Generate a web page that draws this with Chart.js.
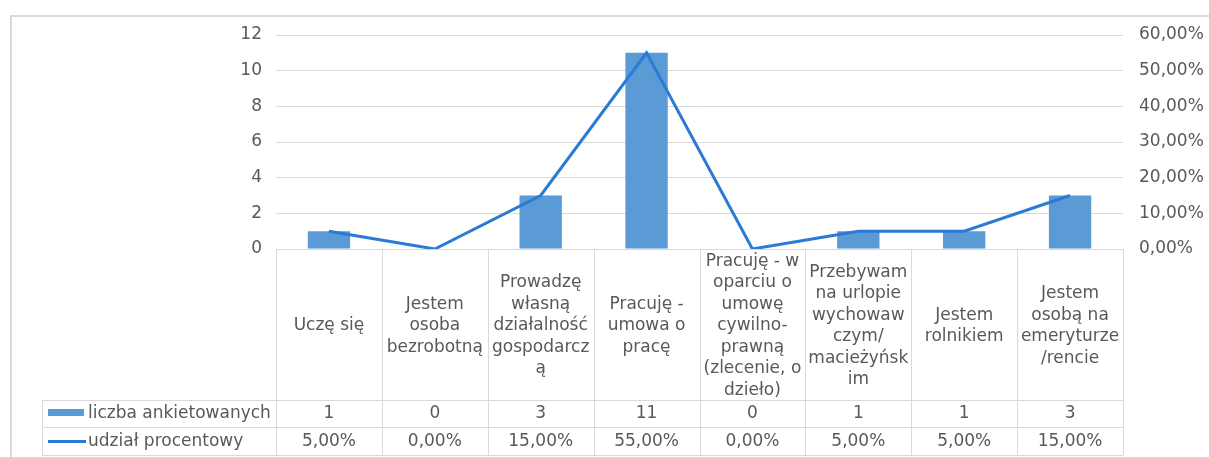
<!DOCTYPE html>
<html>
<head>
<meta charset="utf-8">
<script src="https://cdn.jsdelivr.net/npm/chart.js@4"></script>
<style>
  html, body { margin: 0; padding: 0; background: #fff; }
  #wrap { width: 1209px; height: 457px; position: relative; }
</style>
</head>
<body>
<div id="wrap"><canvas id="chart"></canvas></div>
<script>
// --- DATA ---
const categories = [
    ['Uczę się'],
    ['Jestem', 'osoba', 'bezrobotną'],
    ['Prowadzę', 'własną', 'działalność', 'gospodarcz', 'ą'],
    ['Pracuję -', 'umowa o', 'pracę'],
    ['Pracuję - w', 'oparciu o', 'umowę', 'cywilno-', 'prawną', '(zlecenie, o', 'dzieło)'],
    ['Przebywam', 'na urlopie', 'wychowaw', 'czym/', 'macieżyńsk', 'im'],
    ['Jestem', 'rolnikiem'],
    ['Jestem', 'osobą na', 'emeryturze', '/rencie']
];
const counts = [1, 0, 3, 11, 0, 1, 1, 3];
const shares = [0.05, 0, 0.15, 0.55, 0, 0.05, 0.05, 0.15];
const seriesNames = ['liczba ankietowanych', 'udział procentowy'];

const BAR_COLOR = '#5b9bd5';
const LINE_COLOR = '#2a7bd6';
const GRID = '#d9d9d9';
const TEXT = '#595959';
const FONT = '"DejaVu Sans", Verdana, sans-serif';
const FSIZE = 17;

const pct = v => (v * 100).toFixed(2).replace('.', ',') + '%';

// Data table under the plot + outer frame
const tablePlugin = {
    id: 'dataTable',
    beforeDraw(chart) {
        const c = chart.ctx;
        c.save();
        c.strokeStyle = GRID;
        c.lineWidth = 2;
        c.beginPath();
        c.moveTo(11, chart.height);
        c.lineTo(11, 16);
        c.lineTo(chart.width, 16);
        c.stroke();
        c.restore();
    },
    afterDraw(chart) {
        const c = chart.ctx;
        const area = chart.chartArea;
        const x = chart.scales.x;
        const n = categories.length;
        const colW = (area.right - area.left) / n;
        const top = area.bottom;
        const headBottom = 400;
        const row1Bottom = 427;
        const row2Bottom = 455;
        const legendLeft = 42;

        c.save();
        c.strokeStyle = GRID;
        c.lineWidth = 1;
        c.beginPath();
        // horizontal lines
        c.moveTo(area.left, top + 0.5); c.lineTo(area.right, top + 0.5);
        [headBottom, row1Bottom, row2Bottom].forEach(y => {
            c.moveTo(legendLeft, y + 0.5); c.lineTo(area.right, y + 0.5);
        });
        // vertical lines
        for (let i = 0; i <= n; i++) {
            const xx = Math.round(area.left + i * colW) + 0.5;
            c.moveTo(xx, top); c.lineTo(xx, row2Bottom);
        }
        c.moveTo(legendLeft + 0.5, headBottom); c.lineTo(legendLeft + 0.5, row2Bottom);
        c.stroke();

        c.fillStyle = TEXT;
        c.font = FSIZE + 'px ' + FONT;
        c.textAlign = 'center';
        c.textBaseline = 'middle';
        const lh = 21.5;
        const midY = 326;
        categories.forEach((lines, i) => {
            const cx = x.getPixelForValue(i);
            const y0 = midY - (lines.length - 1) * lh / 2;
            lines.forEach((t, k) => c.fillText(t, cx, y0 + k * lh));
            c.fillText(String(counts[i]), cx, 414);
            c.fillText(pct(shares[i]), cx, 442);
        });

        // legend keys
        c.fillStyle = BAR_COLOR;
        c.fillRect(48, 409, 36, 7);
        c.strokeStyle = LINE_COLOR;
        c.lineWidth = 3;
        c.beginPath();
        c.moveTo(48, 441.5); c.lineTo(86, 441.5);
        c.stroke();

        c.fillStyle = TEXT;
        c.textAlign = 'left';
        c.fillText(seriesNames[0], 88, 414);
        c.fillText(seriesNames[1], 88, 442);
        c.restore();
    }
};

const ctx = document.getElementById('chart').getContext('2d');
const chart = new Chart(ctx, {
    data: {
        labels: categories,
        datasets: [
            {
                type: 'line',
                label: seriesNames[1],
                data: shares,
                yAxisID: 'y2',
                borderColor: LINE_COLOR,
                borderWidth: 3,
                pointRadius: 0,
                tension: 0,
                order: 0
            },
            {
                type: 'bar',
                label: seriesNames[0],
                data: counts,
                yAxisID: 'y',
                backgroundColor: BAR_COLOR,
                categoryPercentage: 0.8,
                barPercentage: 0.5,
                order: 1
            }
        ]
    },
    options: {
        responsive: true,
        maintainAspectRatio: false,
        animation: false,
        layout: { padding: { top: 35, bottom: 208, left: 0, right: 0 } },
        plugins: { legend: { display: false }, tooltip: { enabled: false } },
        scales: {
            x: { type: 'category', display: false, offset: true },
            y: {
                position: 'left',
                min: 0, max: 12,
                ticks: { stepSize: 2, color: TEXT, font: { family: FONT, size: FSIZE }, padding: 14 },
                grid: { color: GRID, drawTicks: false },
                border: { display: false },
                afterFit: s => { s.width = 276; }
            },
            y2: {
                position: 'right',
                min: 0, max: 0.6,
                ticks: { stepSize: 0.1, color: TEXT, font: { family: FONT, size: FSIZE }, padding: 16,
                         callback: v => pct(v) },
                grid: { display: false, drawTicks: false },
                border: { display: false },
                afterFit: s => { s.width = 86; }
            }
        }
    },
    plugins: [tablePlugin]
});
</script>
</body>
</html>
